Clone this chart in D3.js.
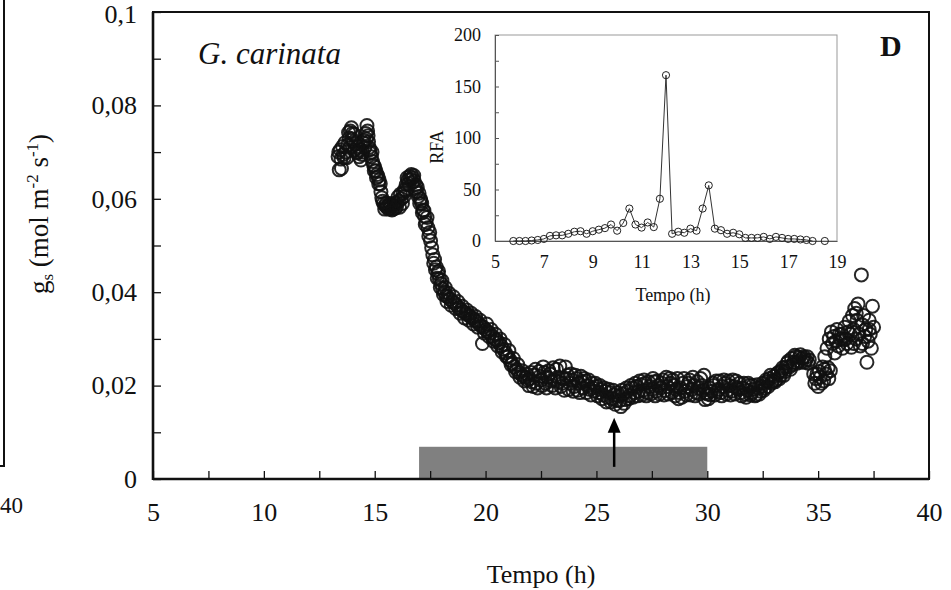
<!DOCTYPE html>
<html><head><meta charset="utf-8">
<script src="https://cdn.jsdelivr.net/npm/d3@7"></script>
<style>
html,body{margin:0;padding:0;background:#fff;}
svg text{font-family:"Liberation Serif","Times New Roman",serif;fill:#111;}
</style></head>
<body><svg id="c" width="951" height="590"></svg>
<script>
// ---------- data ----------
const gsSeriesA = [
[13.35,0.0690],[13.40,0.0662],[13.45,0.0705],[13.50,0.0665],[13.55,0.0712],[13.62,0.0688],[13.70,0.0700],[13.78,0.0715],[13.85,0.0730],[13.90,0.0745],[13.95,0.0752],[14.00,0.0740],[14.05,0.0722],[14.10,0.0705],[14.15,0.0718],[14.22,0.0698],[14.30,0.0690],[14.38,0.0683],[14.45,0.0700],[14.52,0.0725],[14.60,0.0740],[14.65,0.0757],[14.70,0.0735],[14.75,0.0710],[14.80,0.0698],[14.85,0.0690],[14.90,0.0680],[14.95,0.0672],
[15.00,0.0668],[15.05,0.0660],[15.10,0.0652],[15.15,0.0648],[15.20,0.0640],[15.25,0.0632],[15.32,0.0602],[15.40,0.0590],[15.48,0.0585],[15.55,0.0582],[15.62,0.0578],[15.70,0.0580],[15.78,0.0576],[15.85,0.0585],[15.92,0.0580],[16.00,0.0592],[16.05,0.0604],[16.12,0.0582],[16.20,0.0600],[16.28,0.0612],[16.35,0.0620],
[16.42,0.0630],[16.50,0.0640],[16.58,0.0648],[16.65,0.0652],[16.72,0.0645],[16.78,0.0638],[16.85,0.0630],[16.92,0.0625],
[17.00,0.0612],[17.06,0.0600],[17.12,0.0590],[17.18,0.0576],[17.25,0.0562],[17.32,0.0550],[17.40,0.0538],[17.48,0.0528],[17.57,0.0495],[17.70,0.0470],[17.78,0.0454],[17.85,0.0440],[17.92,0.0428],[18.00,0.0418],[18.06,0.0408],[18.15,0.0400],[18.22,0.0392],[18.30,0.0390],
[18.40,0.0385],[18.50,0.0380],[18.60,0.0377],[18.70,0.0372],[18.80,0.0366],[18.90,0.0362],[19.00,0.0358],[19.10,0.0355],[19.20,0.0352],[19.30,0.0348],[19.40,0.0345],[19.50,0.0340],[19.60,0.0338],[19.70,0.0332],[19.80,0.0328],[19.86,0.0290],[19.90,0.0325],[20.00,0.0320],[20.10,0.0315],[20.20,0.0312],[20.30,0.0305],[20.40,0.0300],[20.50,0.0298],[20.60,0.0292],[20.70,0.0285],
[20.80,0.0278],[20.90,0.0270],[21.00,0.0262],[21.10,0.0255],[21.20,0.0248],[21.30,0.0240],[21.40,0.0235],[21.50,0.0228],[21.60,0.0224],[21.70,0.0220],[21.80,0.0218],[21.90,0.0212],[22.00,0.0215],[22.10,0.0208],[22.20,0.0222],[22.30,0.0205],[22.40,0.0230],[22.50,0.0212],
[22.60,0.0240],[22.70,0.0205],[22.80,0.0218],[22.90,0.0225],[23.00,0.0200],[23.10,0.0212],[23.20,0.0235],[23.30,0.0208],[23.40,0.0198],[23.50,0.0215],[23.60,0.0240],[23.70,0.0222],[23.80,0.0205],[23.90,0.0212],[24.00,0.0198],[24.10,0.0215],[24.20,0.0205],[24.30,0.0220],[24.40,0.0195],[24.50,0.0210],[24.60,0.0200],[24.70,0.0192],[24.80,0.0205],[24.90,0.0188],[25.00,0.0198],[25.10,0.0185],[25.20,0.0192],[25.30,0.0180],[25.40,0.0188],[25.50,0.0175],[25.60,0.0185],[25.70,0.0172],[25.80,0.0180],[25.90,0.0168],[26.00,0.0178],[26.10,0.0155],[26.20,0.0182],[26.30,0.0170],[26.40,0.0188],[26.50,0.0178],[26.60,0.0195],[26.70,0.0185],[26.80,0.0198],[26.90,0.0188],[27.00,0.0202],
[27.10,0.0190],[27.20,0.0205],[27.30,0.0185],[27.40,0.0198],[27.50,0.0192],[27.60,0.0208],[27.70,0.0188],[27.80,0.0200],[27.90,0.0195],[28.00,0.0212],[28.10,0.0190],[28.20,0.0198],[28.30,0.0215],[28.40,0.0185],[28.50,0.0200],[28.60,0.0192],[28.70,0.0172],[28.80,0.0195],[28.90,0.0205],[29.00,0.0188],[29.10,0.0198],[29.20,0.0212],[29.30,0.0192],[29.40,0.0200],[29.50,0.0185],[29.60,0.0195],[29.70,0.0215],[29.80,0.0190],[29.90,0.0170],[30.00,0.0182],[30.10,0.0195],[30.20,0.0188],[30.30,0.0200],[30.40,0.0210],[30.50,0.0192],[30.60,0.0185],[30.70,0.0198],[30.80,0.0205],[30.90,0.0190],[31.00,0.0200],[31.10,0.0188],[31.20,0.0198],[31.30,0.0210],[31.40,0.0192],[31.50,0.0185],
[31.60,0.0195],[31.70,0.0182],[31.80,0.0190],[31.90,0.0200],[32.00,0.0185],[32.10,0.0192],[32.20,0.0180],[32.30,0.0195],[32.40,0.0188],[32.50,0.0205],[32.60,0.0195],[32.70,0.0208],[32.80,0.0215],[32.90,0.0205],[33.00,0.0220],[33.10,0.0212],[33.20,0.0228],[33.30,0.0222],[33.40,0.0238],[33.50,0.0230],[33.60,0.0248],[33.70,0.0240],[33.80,0.0258],[33.90,0.0250],[34.00,0.0262],[34.10,0.0252],[34.20,0.0266],[34.30,0.0258],
[34.40,0.0250],[34.50,0.0262],[34.60,0.0255],[34.80,0.0225],[34.85,0.0205],[34.90,0.0215],[35.00,0.0198],[35.05,0.0230],[35.10,0.0218],[35.20,0.0240],[35.25,0.0210],[35.30,0.0262],[35.35,0.0225],[35.40,0.0280],[35.45,0.0238],[35.50,0.0300],[35.55,0.0232],[35.60,0.0315],[35.65,0.0290],[35.70,0.0305],[35.80,0.0295],[35.85,0.0320],[35.90,0.0285],[36.00,0.0300],[36.05,0.0310],[36.10,0.0280],[36.20,0.0325],[36.25,0.0300],[36.30,0.0290],[36.40,0.0338],[36.45,0.0310],[36.50,0.0282],[36.55,0.0350],[36.60,0.0320],[36.65,0.0365],[36.70,0.0300],[36.75,0.0340],[36.80,0.0375],[36.85,0.0310],[36.90,0.0285],[36.95,0.0437],[37.00,0.0330],[37.05,0.0350],[37.10,0.0305],[37.15,0.0320],[37.20,0.0250],[37.25,0.0295],[37.30,0.0340],[37.35,0.0310],[37.40,0.0280],[37.45,0.0370],[37.50,0.0325]
];
const gsSeriesB = [
[13.38,0.0700],[13.48,0.0685],[13.58,0.0695],[13.66,0.0720],[13.74,0.0688],[13.82,0.0742],[13.88,0.0710],[13.98,0.0728],[14.08,0.0738],[14.18,0.0700],[14.26,0.0712],[14.34,0.0705],[14.42,0.0695],[14.48,0.0720],[14.56,0.0710],[14.62,0.0728],[14.68,0.0745],[14.72,0.0722],[14.78,0.0705],[14.88,0.0700],[14.98,0.0660],
[15.08,0.0645],[15.18,0.0632],[15.28,0.0615],[15.36,0.0595],[15.45,0.0578],[15.52,0.0590],[15.60,0.0585],[15.68,0.0590],[15.75,0.0585],[15.82,0.0578],[15.90,0.0590],[15.98,0.0582],[16.08,0.0595],[16.16,0.0610],[16.25,0.0590],[16.32,0.0605],[16.40,0.0618],
[16.46,0.0645],[16.54,0.0632],[16.62,0.0642],[16.70,0.0635],[16.76,0.0650],[16.82,0.0622],[16.88,0.0615],[16.96,0.0605],
[17.03,0.0590],[17.09,0.0595],[17.15,0.0570],[17.22,0.0575],[17.28,0.0545],[17.36,0.0560],[17.44,0.0520],[17.52,0.0510],[17.62,0.0480],[17.66,0.0462],[17.74,0.0448],[17.82,0.0430],[17.88,0.0445],[17.96,0.0410],[18.03,0.0425],[18.10,0.0395],[18.18,0.0410],[18.26,0.0380],[18.34,0.0398],[18.45,0.0372],[18.55,0.0390],[18.65,0.0365],[18.75,0.0380],[18.85,0.0355],[18.95,0.0370],[19.05,0.0345],[19.15,0.0362],[19.25,0.0340],[19.35,0.0355],[19.45,0.0332],[19.55,0.0348],[19.65,0.0325],[19.75,0.0340],[19.95,0.0312],[20.05,0.0332],[20.15,0.0305],[20.25,0.0320],[20.35,0.0295],[20.45,0.0310],[20.55,0.0285],[20.65,0.0300],[20.75,0.0272],[20.85,0.0288],[20.95,0.0262],[21.05,0.0275],[21.15,0.0245],[21.25,0.0258],[21.35,0.0230],[21.45,0.0245],[21.55,0.0218],[21.65,0.0232],[21.75,0.0210],[21.85,0.0225],[21.95,0.0200],[22.05,0.0228],[22.15,0.0198],[22.25,0.0235],[22.35,0.0195],[22.45,0.0220],[22.55,0.0200],
[22.65,0.0228],[22.75,0.0195],[22.85,0.0232],[22.95,0.0210],[23.05,0.0238],[23.15,0.0195],[23.25,0.0218],[23.35,0.0242],[23.45,0.0205],[23.55,0.0190],[23.65,0.0215],[23.75,0.0192],[23.85,0.0225],[23.95,0.0188],[24.05,0.0222],[24.15,0.0190],[24.25,0.0185],[24.35,0.0208],[24.45,0.0215],[24.55,0.0185],[24.65,0.0212],[24.75,0.0180],[24.85,0.0195],[24.95,0.0205],[25.05,0.0178],[25.15,0.0200],[25.25,0.0172],[25.35,0.0195],[25.45,0.0165],[25.55,0.0192],[25.65,0.0165],[25.75,0.0190],[25.85,0.0160],[25.95,0.0185],[26.05,0.0168],[26.15,0.0190],[26.25,0.0162],[26.35,0.0195],[26.45,0.0172],[26.55,0.0200],[26.65,0.0175],[26.75,0.0205],[26.85,0.0178],[26.95,0.0210],[27.05,0.0180],[27.15,0.0212],[27.25,0.0178],[27.35,0.0208],[27.45,0.0182],[27.55,0.0215],[27.65,0.0178],[27.75,0.0210],[27.85,0.0182],[27.95,0.0205],[28.05,0.0180],[28.15,0.0218],[28.25,0.0182],[28.35,0.0205],[28.45,0.0212],[28.55,0.0178],[28.65,0.0215],[28.75,0.0185],[28.85,0.0175],[28.95,0.0215],[29.05,0.0180],[29.15,0.0205],[29.25,0.0180],[29.35,0.0218],[29.45,0.0178],[29.55,0.0208],[29.65,0.0182],[29.75,0.0200],[29.85,0.0222],[29.95,0.0185],[30.05,0.0172],[30.15,0.0180],[30.25,0.0205],[30.35,0.0180],[30.45,0.0188],[30.55,0.0210],[30.65,0.0178],[30.75,0.0212],[30.85,0.0182],[30.95,0.0210],[31.05,0.0180],[31.15,0.0212],[31.25,0.0182],[31.35,0.0195],[31.45,0.0205],[31.55,0.0178],[31.65,0.0205],[31.75,0.0175],[31.85,0.0205],[31.95,0.0180],[32.05,0.0200],[32.15,0.0178],[32.25,0.0202],[32.35,0.0182],[32.45,0.0198],[32.55,0.0190],[32.65,0.0212],[32.75,0.0198],[32.85,0.0222],[32.95,0.0210],[33.05,0.0208],[33.15,0.0225],[33.25,0.0215],[33.35,0.0232],[33.45,0.0222],[33.55,0.0240],[33.65,0.0252],[33.75,0.0235],[33.85,0.0245],[33.95,0.0265],[34.05,0.0248],[34.15,0.0260],[34.25,0.0250],[34.35,0.0262],[34.45,0.0255],[34.55,0.0248],
[34.95,0.0225],[35.15,0.0205],[35.28,0.0235],[35.48,0.0215],[35.75,0.0270],[35.95,0.0310],[36.15,0.0298],[36.35,0.0315],[36.60,0.0290],[36.72,0.0355],[37.00,0.0290],[37.30,0.0320]
];
const darkPeriod = [17, 30];      // grey bar, hours
const darkBarHeight = 0.0069;      // in gs units
const arrowTime = 25.8;
const arrowFrom = 0.0026, arrowTo = 0.0131;

const xTickValues = [5,7.5,10,12.5,15,17.5,20,22.5,25,27.5,30,32.5,35,37.5,40];
const xTickLabels = ["5","","10","","15","","20","","25","","30","","35","","40"];
const yTickValues = [0,0.01,0.02,0.03,0.04,0.05,0.06,0.07,0.08,0.09,0.1];
const yTickLabels = ["0","","0,02","","0,04","","0,06","","0,08","","0,1"];

const rfaTime = [5.75,6.0,6.25,6.5,6.75,7.0,7.25,7.5,7.75,8.0,8.25,8.5,8.75,9.0,9.25,9.5,9.75,10.0,10.25,10.5,10.75,11.0,11.25,11.5,11.75,12.0,12.25,12.5,12.75,13.0,13.25,13.5,13.75,14.0,14.25,14.5,14.75,15.0,15.25,15.5,15.75,16.0,16.25,16.5,16.75,17.0,17.25,17.5,17.75,18.0,18.5];
const rfaValue = [0,0,0,0.5,1,2,5,5.5,5.5,7,9,9.5,7,9.5,11,12.5,16,10,17.5,31.5,16,13,18,13.5,41,161,7,9,8,12,10,31.5,54,12,10.5,7,8,6.5,3,3,3,4,2,4,3,2,2,1.5,1,0,0];
const inXTicks = [5,7,9,11,13,15,17,19];
const inYTicks = [0,25,50,75,100,125,150,175,200];
const inYLabels = ["0","","50","","100","","150","","200"];

// ---------- drawing ----------
const svg = d3.select("#c");
const x = d3.scaleLinear().domain([5,40]).range([153,929]);
const y = d3.scaleLinear().domain([0,0.1]).range([479,12]);
const SERIF = "'Liberation Serif','Times New Roman',serif";

// neighbour panel fragment on the far left
svg.append("path").attr("d","M4,0 V466 H0").attr("fill","none").attr("stroke","#111").attr("stroke-width",2);
svg.append("text").attr("x",0).attr("y",505).attr("dy","0.35em").attr("font-size",23).text("40");

// dark period bar
svg.append("rect")
  .attr("x",x(darkPeriod[0])).attr("width",x(darkPeriod[1])-x(darkPeriod[0]))
  .attr("y",y(darkBarHeight)).attr("height",y(0)-y(darkBarHeight))
  .attr("fill","#808080");

// axes
const xAxis = d3.axisBottom(x).tickValues(xTickValues).tickSize(-8).tickPadding(24)
  .tickFormat((d,i)=>xTickLabels[i]);
const gx = svg.append("g").attr("transform",`translate(0,${y(0)})`).call(xAxis);
gx.select(".domain").remove();
gx.selectAll(".tick line").attr("stroke","#111").attr("stroke-width",1.3);
gx.selectAll("text").attr("font-size",26).attr("font-family",SERIF).attr("fill","#111");

const yAxis = d3.axisLeft(y).tickValues(yTickValues).tickSize(-8).tickPadding(16)
  .tickFormat((d,i)=>yTickLabels[i]);
const gy = svg.append("g").attr("transform",`translate(${x(5)},0)`).call(yAxis);
gy.select(".domain").remove();
gy.selectAll(".tick line").attr("stroke","#111").attr("stroke-width",1.3);
gy.selectAll("text").attr("font-size",26).attr("font-family",SERIF).attr("fill","#111")
  .attr("dy",(d)=> d===0.1 ? "0.42em" : "0.32em");

// frame
svg.append("rect").attr("x",x(5)).attr("y",y(0.1)).attr("width",x(40)-x(5)).attr("height",y(0)-y(0.1))
  .attr("fill","none").attr("stroke","#111").attr("stroke-width",2);
svg.append("line").attr("x1",x(5)).attr("x2",x(5)).attr("y1",y(0.1)).attr("y2",y(0)+1).attr("stroke","#111").attr("stroke-width",2.6);
svg.append("line").attr("x1",x(5)).attr("x2",x(40)).attr("y1",y(0)).attr("y2",y(0)).attr("stroke","#111").attr("stroke-width",2.6);

// arrow
const ax = x(arrowTime);
svg.append("line").attr("x1",ax).attr("x2",ax).attr("y1",y(arrowFrom)).attr("y2",y(arrowTo)+10)
  .attr("stroke","#000").attr("stroke-width",2.5);
svg.append("path").attr("d",`M${ax},${y(arrowTo)} L${ax-6.5},${y(arrowTo)+15} L${ax+6.5},${y(arrowTo)+15} Z`).attr("fill","#000");

// scatter
const gsAll = gsSeriesA.concat(gsSeriesB);
svg.append("g").selectAll("circle").data(gsAll).join("circle")
  .attr("cx",d=>x(d[0])).attr("cy",d=>y(d[1])).attr("r",6.5)
  .attr("fill","none").attr("stroke","#111").attr("stroke-width",2).attr("stroke-opacity",0.9);

// labels
svg.append("text").attr("x",198).attr("y",64).attr("font-size",31).attr("font-style","italic").text("G. carinata");
svg.append("text").attr("x",880).attr("y",56).attr("font-size",30).attr("font-weight","bold").text("D");
svg.append("text").attr("x",541).attr("y",583).attr("text-anchor","middle").attr("font-size",26).text("Tempo (h)");

const yl = svg.append("text").attr("transform","translate(48,214) rotate(-90)").attr("text-anchor","middle").attr("font-size",27);
yl.append("tspan").text("g");
yl.append("tspan").attr("font-size",17).attr("dy",5).text("s");
yl.append("tspan").attr("dy",-5).text(" (mol m");
yl.append("tspan").attr("font-size",17).attr("dy",-10).text("-2");
yl.append("tspan").attr("dy",10).text(" s");
yl.append("tspan").attr("font-size",17).attr("dy",-10).text("-1");
yl.append("tspan").attr("dy",10).text(")");

// ---------- inset ----------
const xi = d3.scaleLinear().domain([5,19]).range([495,837]);
const yi = d3.scaleLinear().domain([0,200]).range([241,35]);
const ins = svg.append("g");
ins.append("rect").attr("x",xi(5)).attr("y",yi(200)).attr("width",xi(19)-xi(5)).attr("height",yi(0)-yi(200))
  .attr("fill","none").attr("stroke","#999").attr("stroke-width",1);
const iy = d3.axisLeft(yi).tickValues(inYTicks).tickSize(-4).tickPadding(14).tickFormat((d,i)=>inYLabels[i]);
const giy = ins.append("g").attr("transform",`translate(${xi(5)},0)`).call(iy);
giy.select(".domain").attr("stroke","#555");
giy.selectAll(".tick line").attr("stroke","#555");
giy.selectAll("text").attr("font-size",18).attr("font-family",SERIF).attr("fill","#333");
const ix = d3.axisBottom(xi).tickValues(inXTicks).tickSize(0).tickPadding(14).tickFormat(d=>d);
const gix = ins.append("g").attr("transform",`translate(0,${yi(0)})`).call(ix);
gix.select(".domain").attr("stroke","#555");
gix.selectAll("text").attr("font-size",18).attr("font-family",SERIF).attr("fill","#333");

const rfa = rfaTime.map((t,i)=>[t,rfaValue[i]]);
ins.append("path").datum(rfa.slice(0,50))
  .attr("d",d3.line().x(d=>xi(d[0])).y(d=>yi(d[1])))
  .attr("fill","none").attr("stroke","#333").attr("stroke-width",1);
ins.append("g").selectAll("circle").data(rfa).join("circle")
  .attr("cx",d=>xi(d[0])).attr("cy",d=>yi(d[1])).attr("r",3.6)
  .attr("fill","none").attr("stroke","#222").attr("stroke-width",1);

ins.append("text").attr("transform","translate(443,147) rotate(-90)").attr("text-anchor","middle").attr("font-size",18).attr("fill","#333").text("RFA");
ins.append("text").attr("x",673).attr("y",301).attr("text-anchor","middle").attr("font-size",18).attr("fill","#333").text("Tempo (h)");
</script></body></html>
